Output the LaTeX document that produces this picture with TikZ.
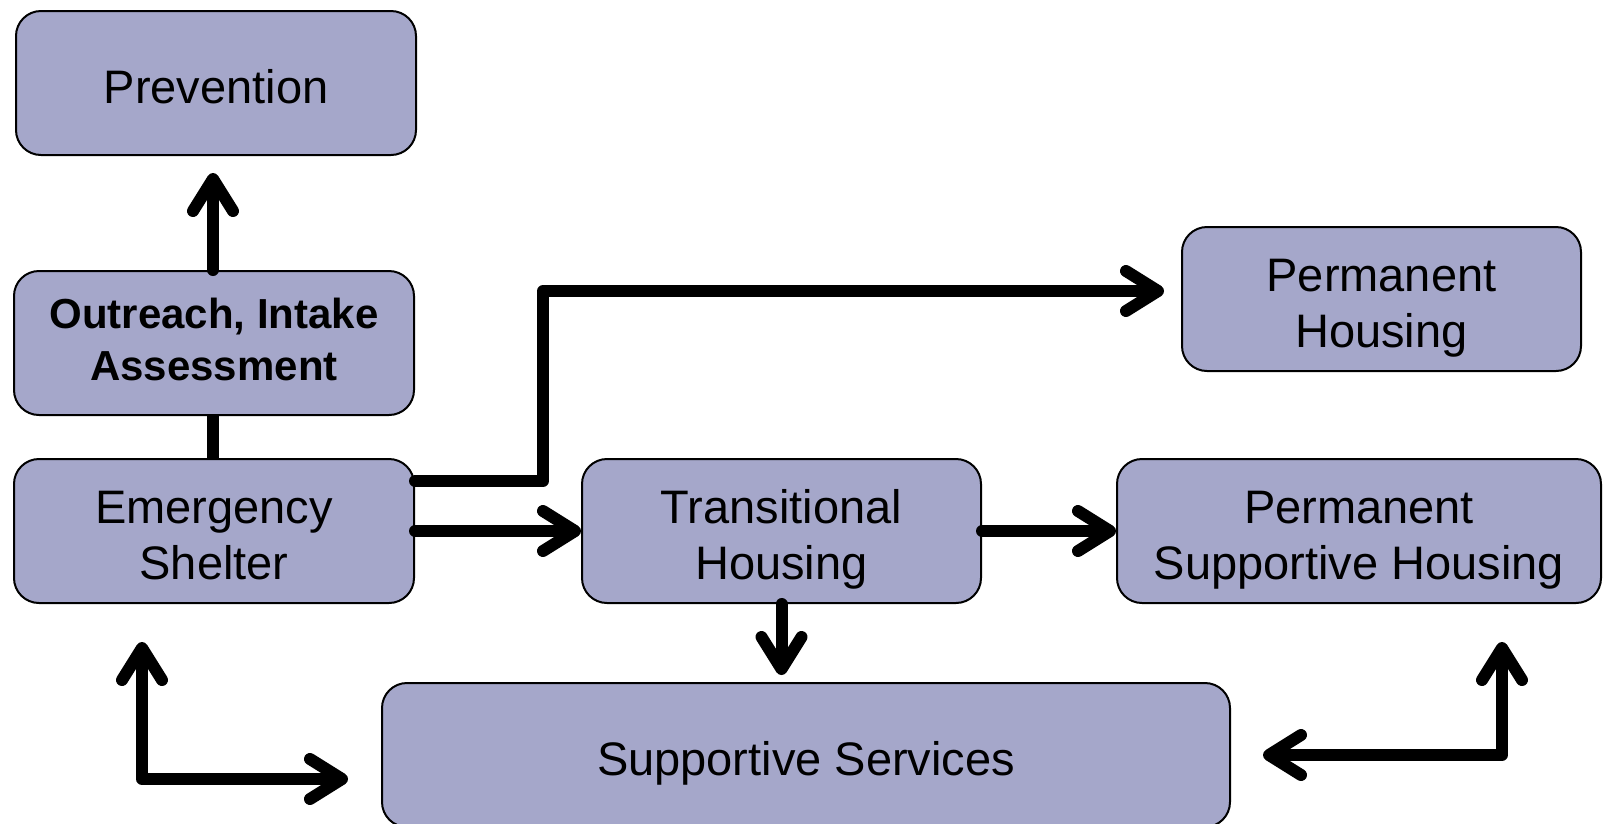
\documentclass[tikz,border=0pt]{standalone}
\usepackage{fontspec}
\setmainfont{Liberation Sans}
\usetikzlibrary{arrows.meta}
\definecolor{boxfill}{RGB}{165,167,202}
\newcommand\myTop{\rule{0pt}{52pt}}
\newcommand\myBot{\rule[-12pt]{0pt}{0pt}}
\newcommand\myTopB{\rule{0pt}{32pt}}
\newcommand\myBotB{\rule[-10pt]{0pt}{0pt}}
\begin{document}
\begin{tikzpicture}[x=1pt,y=-1pt,
  box/.style={draw=black, line width=2pt, fill=boxfill, rounded corners=25pt,
    align=center, inner sep=0pt, minimum height=144pt,
    font=\fontsize{47}{56}\selectfont},
  boldtext/.style={font=\bfseries\fontsize{42}{52}\selectfont},
  >={Straight Barb[round,length=32pt,width=40pt]},
  link/.style={line width=12pt, line cap=round, line join=round},
  arr/.style={link, ->},
  dbl/.style={link, <->}]
\useasboundingbox (0,0) rectangle (1606,823);
\node[box, minimum width=400pt] (prev) at (216,83) {\myTop Prevention\myBot};
\node[box, boldtext, minimum width=400pt] (out) at (214,343) {\myTopB Outreach, Intake\\Assessment\myBotB};
\node[box, minimum width=400pt] (es) at (214,531) {\myTop Emergency\\Shelter\myBot};
\node[box, minimum width=399pt] (th) at (781.5,531) {\myTop Transitional\\Housing\myBot};
\node[box, minimum width=399pt] (ph) at (1381.5,299) {\myTop Permanent\\Housing\myBot};
\node[box, minimum width=484pt] (psh) at (1359,531) {\myTop Permanent\\Supportive Housing\myBot};
\node[box, minimum width=848pt] (ss) at (806,755) {\myTop Supportive Services\myBot};
% connectors
\draw[arr, shorten >=17pt] (out.north -| 213,0) -- (prev.south -| 213,0);
\draw[link, line cap=butt] (out.south -| 213,0) -- (es.north -| 213,0);
\draw[arr] (es.east) -- (th.west);
\draw[arr] (th.east) -- (th.east -| psh.west);
\draw[arr, shorten >=7pt] (th.south) -- (th.south |- ss.north);
\coordinate (c1) at (543,291);
\draw[arr, shorten >=17pt] ([yshift=50pt]es.east) -| (c1) -- (c1 -| ph.west);
\coordinate (l1) at (142,642);
\coordinate (l2) at (142,779);
\coordinate (l3) at (348,779);
\draw[dbl] (l1) -- (l2) -- (l3);
\coordinate (r1) at (1263,755);
\coordinate (r2) at (1502,755);
\coordinate (r3) at (1502,642);
\draw[dbl] (r1) -- (r2) -- (r3);
\end{tikzpicture}
\end{document}
